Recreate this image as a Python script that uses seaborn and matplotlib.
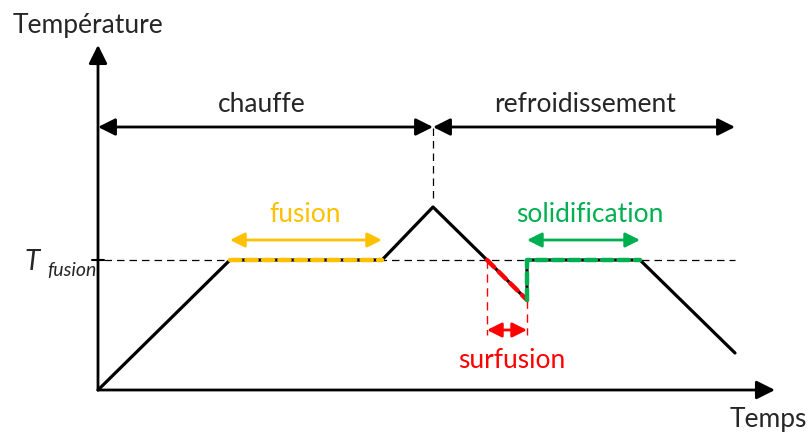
import matplotlib
matplotlib.use("Agg")
import matplotlib.pyplot as plt
import seaborn as sns
import pandas as pd

temps = [0, 132, 284, 335, 389, 429, 429, 542, 637]
temperature = [0, 130, 130, 183, 130, 90, 130, 130, 37]
t_fusion = 130

# segments colorés
fusion_t = [132, 284]
fusion_T = [130, 130]
surfusion_t = [389, 429]
surfusion_T = [130, 90]
solid_t = [429, 429, 542]
solid_T = [90, 130, 130]

# bornes des phases
t_pic = 335
t_fin = 637
t_max_axe = 677
T_max_axe = 345

JAUNE = "#FFC000"
VERT = "#00B050"
ROUGE = "#FF0000"

sns.set_style("white")
plt.rcParams["font.family"] = ["Lato", "DejaVu Sans"]

fig = plt.figure(figsize=(8.07, 4.32), dpi=100)
ax = fig.add_axes([0, 0, 1, 1])
ax.set_xlim(-98, 709)
ax.set_ylim(-42, 390)
ax.axis("off")

df = pd.DataFrame({"t": temps, "T": temperature})
sns.lineplot(data=df, x="t", y="T", sort=False, estimator=None, color="black", lw=2.3, ax=ax)

# palier T_fusion
ax.plot([6, t_fin], [t_fusion, t_fusion], color="black", lw=0.9, ls=(0, (6, 4)), zorder=1)
ax.plot([-6, 6], [t_fusion, t_fusion], color="black", lw=1.5)

# segments colorés en pointillé
pointille = dict(lw=3.2, ls=(0, (2.3, 1.4)), dash_capstyle="round", zorder=3)
ax.plot(fusion_t, fusion_T, color=JAUNE, **pointille)
ax.plot(surfusion_t, surfusion_T, color=ROUGE, **pointille)
ax.plot(solid_t, solid_T, color=VERT, **pointille)

# axes avec flèches
fleche = dict(arrowstyle="-|>", color="black", lw=2, mutation_scale=28, shrinkA=0, shrinkB=0)
ax.annotate("", xy=(0, T_max_axe), xytext=(0, 0), arrowprops=fleche)
ax.annotate("", xy=(t_max_axe, 0), xytext=(0, 0), arrowprops=fleche)

# double flèches chauffe / refroidissement
dbl = dict(arrowstyle="<|-|>", color="black", lw=2, mutation_scale=26, shrinkA=0, shrinkB=0)
ax.annotate("", xy=(t_pic, 263), xytext=(0, 263), arrowprops=dbl)
ax.annotate("", xy=(t_fin, 263), xytext=(t_pic, 263), arrowprops=dbl)
ax.plot([t_pic, t_pic], [262, 190], color="black", lw=0.9, ls=(0, (6, 4)))

# double flèches colorées
ax.annotate("", xy=(fusion_t[1], 150), xytext=(fusion_t[0], 150),
            arrowprops=dict(dbl, color=JAUNE, mutation_scale=22))
ax.annotate("", xy=(solid_t[2], 150), xytext=(solid_t[0], 150),
            arrowprops=dict(dbl, color=VERT, mutation_scale=22))
ax.annotate("", xy=(surfusion_t[1], 60), xytext=(surfusion_t[0], 60),
            arrowprops=dict(dbl, color=ROUGE, mutation_scale=22))
ax.plot([surfusion_t[0], surfusion_t[0]], [surfusion_T[0], 55], color=ROUGE, lw=1.0, ls=(0, (6, 4)))
ax.plot([surfusion_t[1], surfusion_t[1]], [surfusion_T[1], 55], color=ROUGE, lw=1.0, ls=(0, (6, 4)))

# textes
fs = 19
ax.text(-10, 365, "Température", ha="center", va="center", fontsize=fs)
ax.text(670, -29, "Temps", ha="center", va="center", fontsize=fs)
ax.text(164, 286, "chauffe", ha="center", va="center", fontsize=fs)
ax.text(487, 286, "refroidissement", ha="center", va="center", fontsize=fs)
ax.text(207, 176, "fusion", ha="center", va="center", fontsize=fs, color=JAUNE)
ax.text(492, 176, "solidification", ha="center", va="center", fontsize=fs, color=VERT)
ax.text(414, 30, "surfusion", ha="center", va="center", fontsize=fs, color=ROUGE)
ax.text(-66, 128, "T", ha="center", va="center", fontsize=20, style="italic")
ax.text(-1, 119, "fusion", ha="right", va="center", fontsize=14, style="italic")

fig.savefig("out.png", dpi=100)
